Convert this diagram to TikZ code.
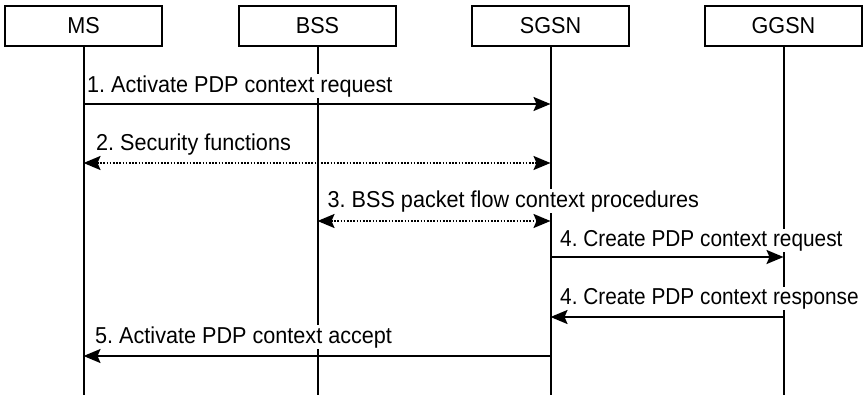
\documentclass[tikz,border=0pt]{standalone}
\usepackage{fontspec}
\setmainfont{Liberation Sans}[FakeStretch=0.94]
\newfontfamily\narrowfont{Liberation Sans}[FakeStretch=0.905]
\usetikzlibrary{arrows.meta}
\frenchspacing
\tikzset{
  entity/.style={draw, line width=2pt, minimum width=157pt, minimum height=40pt,
    inner sep=0pt, font=\fontsize{23}{26}\selectfont},
  lifeline/.style={line width=2pt},
  lbl/.style={anchor=base west, fill=white, inner sep=1pt, font=\fontsize{23}{26}\selectfont},
  nlbl/.style={lbl, font=\fontsize{23}{26}\narrowfont},
  msg/.style={line width=2pt, -{Stealth[length=17pt, width=14pt, inset=3pt]}},
  dmsg/.style={line width=2pt, dash pattern=on 1.6pt off 1.6pt,
    {Stealth[length=17pt, width=14pt, inset=3pt]}-{Stealth[length=17pt, width=14pt, inset=3pt]}}
}
\begin{document}
\begin{tikzpicture}[x=1pt, y=-1pt]
\useasboundingbox (0,0) rectangle (867,397);
% entities
\node[entity] (ms)   at (83.5,26)  {MS};
\node[entity] (bss)  at (317.5,26) {BSS};
\node[entity] (sgsn) at (550.5,26) {SGSN};
\node[entity] (ggsn) at (783.5,26) {GGSN};
% lifelines
\foreach \e in {ms,bss,sgsn,ggsn}
  \draw[lifeline] (\e.south) -- (\e.south |- {0,395});
% message labels (white background breaks the lifelines behind them)
\node[lbl]  (l1) at (86,92)     {1. Activate PDP context request};
\node[lbl]  (l2) at (95,150)    {2. Security functions};
\node[lbl]  (l3) at (326.5,207) {3. BSS packet flow context procedures};
\node[nlbl] (l4) at (559,246)   {4. Create PDP context request};
\node[nlbl] (l5) at (559,304)   {4. Create PDP context response};
\node[lbl]  (l6) at (94,343)    {5. Activate PDP context accept};
% messages
\draw[msg]  (ms.south |- {0,104})   -- (sgsn.south |- {0,104});
\draw[dmsg] (ms.south |- {0,163})   -- (sgsn.south |- {0,163});
\draw[dmsg] (bss.south |- {0,221})  -- (sgsn.south |- {0,221});
\draw[msg]  (sgsn.south |- {0,257}) -- (ggsn.south |- {0,257});
\draw[msg]  (ggsn.south |- {0,317}) -- (sgsn.south |- {0,317});
\draw[msg]  (sgsn.south |- {0,356}) -- (ms.south |- {0,356});
\end{tikzpicture}
\end{document}
